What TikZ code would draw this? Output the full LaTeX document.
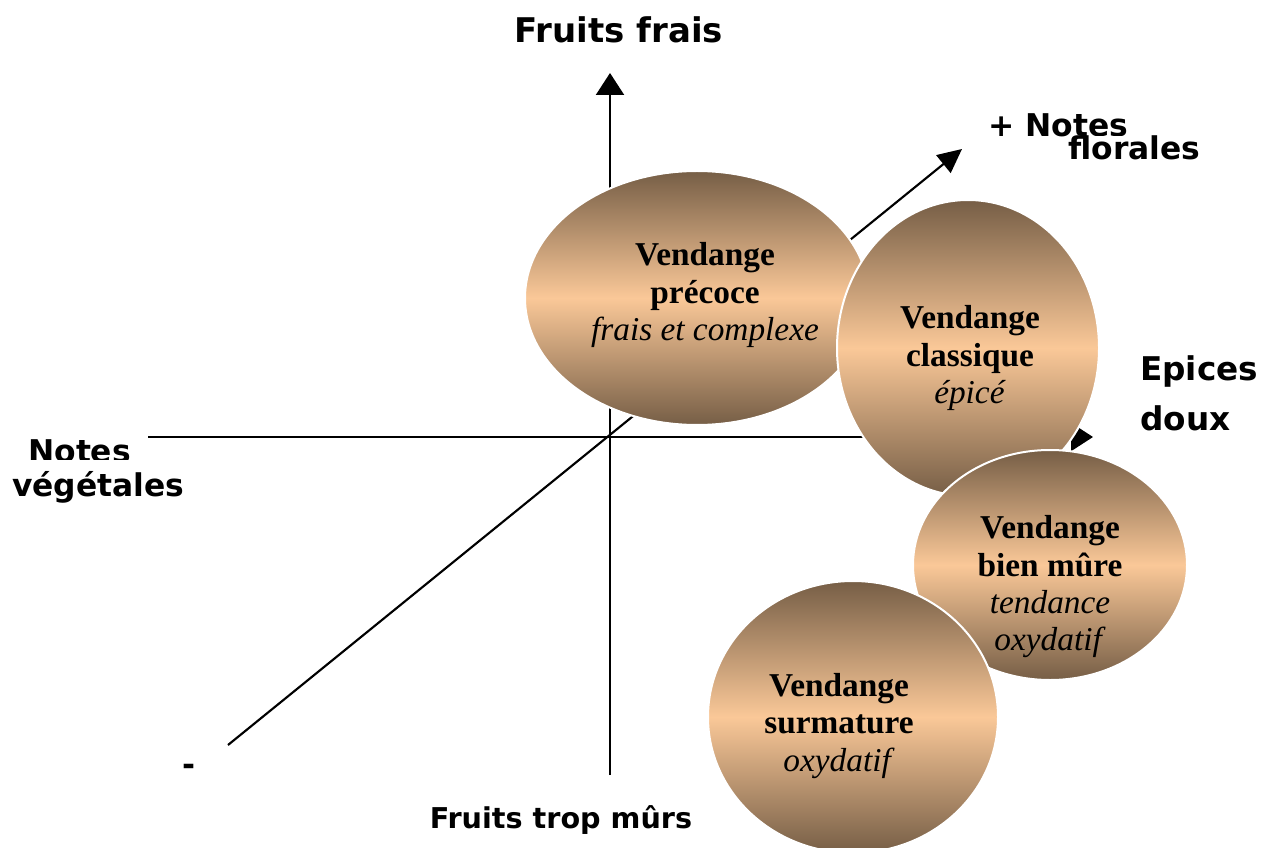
\documentclass[tikz,border=0pt]{standalone}
\usepackage{fontspec}
\setmainfont{Liberation Serif}
\newfontfamily\axisfont{DejaVu Sans}
\usetikzlibrary{arrows.meta,shapes.geometric}
\definecolor{grapeDark}{RGB}{118,94,70}
\definecolor{grapeLight}{RGB}{250,200,152}
\begin{document}
\begin{tikzpicture}[x=0.75pt,y=-0.75pt,
  axisline/.style={line width=1.6pt},
  blob/.style={ellipse, draw=white, line width=1.5pt, inner sep=0pt,
    top color=grapeDark, bottom color=grapeDark, middle color=grapeLight},
  wine/.style={align=center, inner sep=0pt, font=\fontsize{25pt}{28pt}\selectfont},
  axislabel/.style={inner sep=0pt, font=\axisfont\bfseries\fontsize{23.5pt}{28pt}\selectfont}]
\useasboundingbox (0,0) rectangle (1266,848);

% axis end points
\coordinate (vbot) at (610,775);
\coordinate (vtop) at (610,73);
\coordinate (hleft) at (148,437);
\coordinate (hright) at (1093,437);
\coordinate (dlow) at (228,745);
\coordinate (dhigh) at (962,149);

% the three axes
\draw[axisline, -{Triangle[length=16.5pt,width=21pt]}] (vbot) -- (vtop);
\draw[axisline, -{Triangle[length=16.5pt,width=21pt]}] (hleft) -- (hright);
\draw[axisline, -{Triangle[length=18pt,width=17pt]}] (dlow) -- (dhigh);

% harvest stages
\node[blob, minimum width=258pt, minimum height=190.5pt] (precoce) at (697,298) {};
\node[blob, minimum width=196.5pt, minimum height=222pt] (classique) at (968,348) {};
\node[blob, minimum width=205.5pt, minimum height=172.5pt] (bienmure) at (1050,565) {};
\node[blob, minimum width=217.5pt, minimum height=204pt] (surmature) at (853,717) {};

\node[wine] (tprecoce) at (705,295) {\textbf{Vendange}\\ \textbf{précoce}\\ \textit{frais et complexe}};
\node[wine] (tclassique) at (970,358) {\textbf{Vendange}\\ \textbf{classique}\\ \textit{épicé}};
\node[wine] (tbienmure) at (1050,587) {\textbf{Vendange}\\ \textbf{bien mûre}\\ \textit{tendance}\\ \textit{oxydatif}};
\node[wine] (tsurmature) at (839,726) {\textbf{Vendange}\\ \textbf{surmature}\\ \textit{oxydatif}};

% axis labels
\node[axislabel, font=\axisfont\bfseries\fontsize{25.5pt}{28pt}\selectfont, anchor=base] (frais) at (619,43) {Fruits frais};
\node[axislabel, font=\axisfont\bfseries\fontsize{21.5pt}{26pt}\selectfont, anchor=base] (tropmurs) at (561,828) {Fruits trop mûrs};
\node[axislabel, anchor=base west] (plusnotes) at (988,137) {+ Notes};
\node[axislabel, anchor=base west, fill=white] (florales) at (1068,160) {florales};
\node[axislabel, anchor=base west] (notesveg) at (28,462) {Notes};
\node[axislabel, anchor=base west, fill=white, inner ysep=8pt] (vegetales) at (12,496) {végétales};
\node[axislabel, font=\axisfont\bfseries\fontsize{24.5pt}{28pt}\selectfont, anchor=base west] (epices) at (1140,380) {Epices};
\node[axislabel, font=\axisfont\bfseries\fontsize{24.5pt}{28pt}\selectfont, anchor=base west] (doux) at (1140,430) {doux};
\node[axislabel] (moins) at (189,770) {-};
\end{tikzpicture}
\end{document}
